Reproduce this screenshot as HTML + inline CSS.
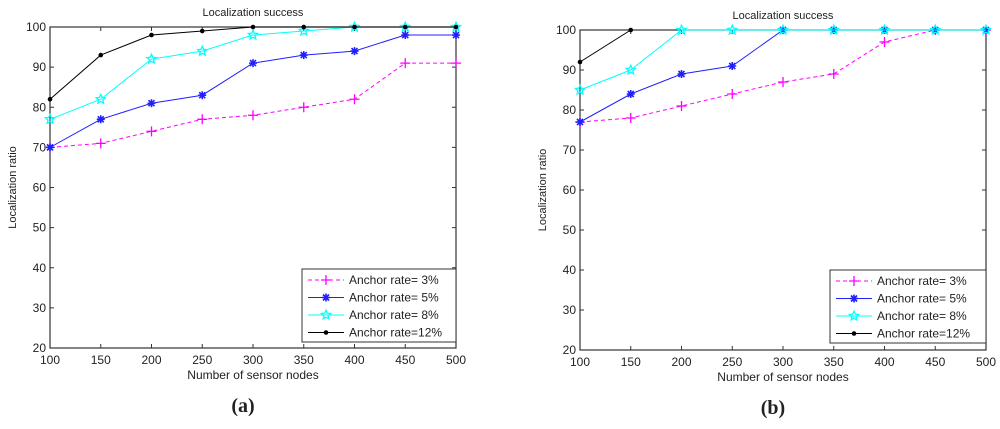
<!DOCTYPE html>
<html><head><meta charset="utf-8"><style>
body{margin:0;background:#fff;width:1000px;height:424px;overflow:hidden}
svg text{font-family:"Liberation Sans",sans-serif;fill:#222}
</style></head><body>
<svg id="s" width="1000" height="424"></svg>
<script>
const xCats=[100,150,200,250,300,350,400,450,500];
const yTicks=[20,30,40,50,60,70,80,90,100];
const a3=[70,71,74,77,78,80,82,91,91];
const a5=[70,77,81,83,91,93,94,98,98];
const a8=[77,82,92,94,98,99,100,100,100];
const a12=[82,93,98,99,100,100,100,100,100];
const b3=[77,78,81,84,87,89,97,100,100];
const b5=[77,84,89,91,100,100,100,100,100];
const b8=[85,90,100,100,100,100,100,100,100];
const b12=[92,100,null,null,null,null,null,null,null];
const legendLabels=["Anchor rate= 3%","Anchor rate= 5%","Anchor rate= 8%","Anchor rate=12%"];
const NS="http://www.w3.org/2000/svg";
const svg=document.getElementById('s');
function mk(t,a,p){const e=document.createElementNS(NS,t);for(const k in a)e.setAttribute(k,a[k]);(p||svg).appendChild(e);return e;}
function marker(g,type,x,y,c){
 if(type==='plus'){mk('path',{d:`M${x-5},${y}H${x+5}M${x},${y-5}V${y+5}`,stroke:c,'stroke-width':1.3},g);}
 else if(type==='star'){mk('path',{d:`M${x-4},${y}H${x+4}M${x},${y-4}V${y+4}M${x-3},${y-3}L${x+3},${y+3}M${x-3},${y+3}L${x+3},${y-3}`,stroke:c,'stroke-width':1.6},g);}
 else if(type==='pent'){let d='';for(let i=0;i<10;i++){const r=i%2?2.2:4.8,a=-Math.PI/2+i*Math.PI/5;d+=(i?'L':'M')+(x+r*Math.cos(a)).toFixed(1)+','+(y+r*Math.sin(a)).toFixed(1);}mk('path',{d:d+'Z',stroke:c,fill:'none','stroke-width':1.3},g);}
 else {mk('circle',{cx:x,cy:y,r:2.3,fill:c},g);}
}
const styles=[{c:'#ff00ff',m:'plus',dash:'4,3'},{c:'#2020ff',m:'star'},{c:'#00ffff',m:'pent'},{c:'#000',m:'dot'}];
function plot(L,R,T,B,series,name,label,lx,ly){
 const g=mk('g',{});
 const X=v=>L+(v-100)/400*(R-L), Y=v=>B-(v-20)/80*(B-T);
 mk('rect',{x:L,y:T,width:R-L,height:B-T,fill:'#fff',stroke:'#333','stroke-width':1.2},g);
 xCats.forEach(v=>{const x=X(v);mk('path',{d:`M${x},${B}v-4M${x},${T}v4`,stroke:'#333'},g);const t=mk('text',{x:x,y:B+16,'text-anchor':'middle','font-size':12},g);t.textContent=v;});
 yTicks.forEach(v=>{const y=Y(v);mk('path',{d:`M${L},${y}h4M${R},${y}h-4`,stroke:'#333'},g);const t=mk('text',{x:L-4,y:y+4,'text-anchor':'end','font-size':12},g);t.textContent=v;});
 let t=mk('text',{x:(L+R)/2,y:T-11,'text-anchor':'middle','font-size':11},g);t.textContent='Localization success';
 t=mk('text',{x:(L+R)/2,y:B+31,'text-anchor':'middle','font-size':12},g);t.textContent='Number of sensor nodes';
 t=mk('text',{x:0,y:0,'text-anchor':'middle','font-size':11,transform:`translate(${L-34},${(T+B)/2}) rotate(-90)`},g);t.textContent='Localization ratio';
 t=mk('text',{x:(L+R)/2-10,y:B+64,'text-anchor':'middle','font-size':20,'font-weight':'bold',style:'font-family:"Liberation Serif",serif'},g);t.textContent='('+label+')';
 series.forEach((s,i)=>{const st=styles[i];let d='';s.forEach((v,j)=>{if(v==null)return;d+=(d?'L':'M')+X(xCats[j])+','+Y(v);});
  const p=mk('path',{d:d,fill:'none',stroke:st.c,'stroke-width':1,'stroke-dasharray':st.dash||''},g);
  s.forEach((v,j)=>{if(v!=null)marker(g,st.m,X(xCats[j]),Y(v),st.c);});});
 const lg=mk('g',{},g);
 mk('rect',{x:lx,y:ly,width:R-lx,height:73,fill:'#fff',stroke:'#333'},lg);
 legendLabels.forEach((s,i)=>{const st=styles[i],y=ly+11+i*17.5;mk('path',{d:`M${lx+6},${y}h36`,stroke:st.c,'stroke-dasharray':st.dash||''},lg);marker(lg,st.m,lx+24,y,st.c);
  const tt=mk('text',{x:lx+47,y:y+4,'font-size':12},lg);tt.textContent=s;});
}
plot(50,456,27,348,[a3,a5,a8,a12],'chart-a','a',302,269);
plot(580,986,30,350,[b3,b5,b8,b12],'chart-b','b',830,270);
</script></body></html>
